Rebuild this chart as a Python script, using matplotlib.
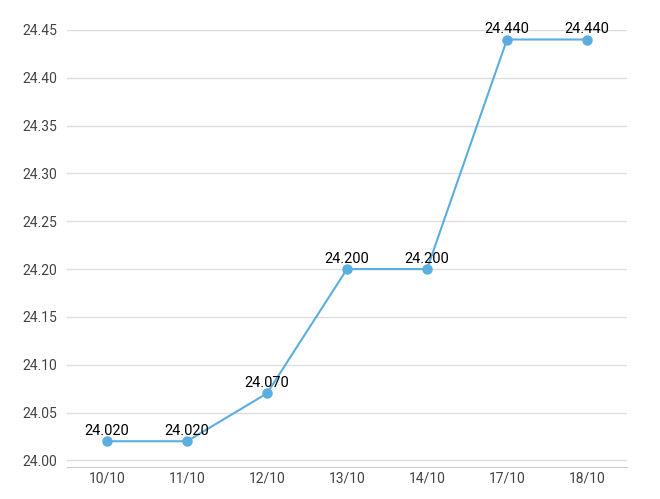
import matplotlib.pyplot as plt

plt.rcParams["font.family"] = ["Roboto", "DejaVu Sans"]

dates = ["10/10", "11/10", "12/10", "13/10", "14/10", "17/10", "18/10"]
prices = [24.020, 24.020, 24.070, 24.200, 24.200, 24.440, 24.440]
yticks = [24.00, 24.05, 24.10, 24.15, 24.20, 24.25, 24.30, 24.35, 24.40, 24.45]

fig = plt.figure(figsize=(6.6, 4.99), dpi=100)
ax = fig.add_axes([0.1015, 0.064, 0.8485, 0.876])

x = range(len(dates))
ax.plot(x, prices, color="#5aaee0", linewidth=1.5, marker="o", markersize=6.5, zorder=3)
for xi, p in zip(x, prices):
    ax.text(xi, p + 0.011, f"{p:.3f}", ha="center", va="center", fontsize=10.5,
            color="black", zorder=4, clip_on=False)

ax.set_xlim(-0.5, len(dates) - 0.5)
ax.set_ylim(23.993, 24.45)
ax.set_xticks(list(x))
ax.set_xticklabels(dates)
ax.set_yticks(yticks)
ax.set_yticklabels([f"{t:.2f}" for t in yticks])
ax.tick_params(axis="both", length=0, labelsize=10, colors="#444444")
ax.tick_params(axis="y", pad=32)
for lab in ax.get_yticklabels():
    lab.set_horizontalalignment("left")
ax.grid(axis="y", color="#dddddd", linewidth=1)
for s in ["top", "right", "left"]:
    ax.spines[s].set_visible(False)
ax.spines["bottom"].set_color("#cccccc")

fig.savefig("out.png", dpi=100)
